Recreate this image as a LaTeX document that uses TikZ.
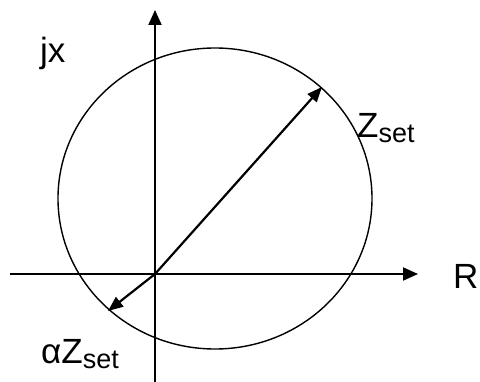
\documentclass[tikz,border=0pt]{standalone}
\usepackage{fontspec}
\setmainfont{Liberation Sans}
\usetikzlibrary{arrows.meta}
\tikzset{
  axis/.style={line width=2pt, -{Triangle[length=15pt,width=13pt]}},
  vec/.style={line width=2.2pt, -{Triangle[length=15pt,width=12pt]}},
  ring/.style={line width=1.4pt},
  lbl/.style={anchor=base west, inner sep=0pt, font=\fontsize{35}{40}\selectfont},
}
\newcommand{\subtxt}[1]{{\fontsize{27}{30}\selectfont\raisebox{-5pt}{#1}}}
\begin{document}
\begin{tikzpicture}[x=1pt,y=-1pt]
\useasboundingbox (0,0) rectangle (480,382);
\coordinate (O) at (155,274);
\coordinate (ytop) at (155,10);
\coordinate (ybot) at (155,382);
\coordinate (xleft) at (10,274);
\coordinate (xright) at (418,274);
\coordinate (zset) at (322,87);
\coordinate (azset) at (108,311);
\draw[ring] (215,198.5) ellipse [x radius=157, y radius=150.5];
\draw[axis] (ybot) -- (ytop);
\draw[axis] (xleft) -- (xright);
\draw[vec] (O) -- (zset);
\draw[vec] (O) -- (azset);
\node[lbl] (jx) at (40,63) {jx};
\node[lbl] (R) at (453,289) {R};
\node[lbl] (zl) at (357,138) {Z\subtxt{set}};
\node[lbl] (azl) at (41,364) {αZ\subtxt{set}};
\end{tikzpicture}
\end{document}
